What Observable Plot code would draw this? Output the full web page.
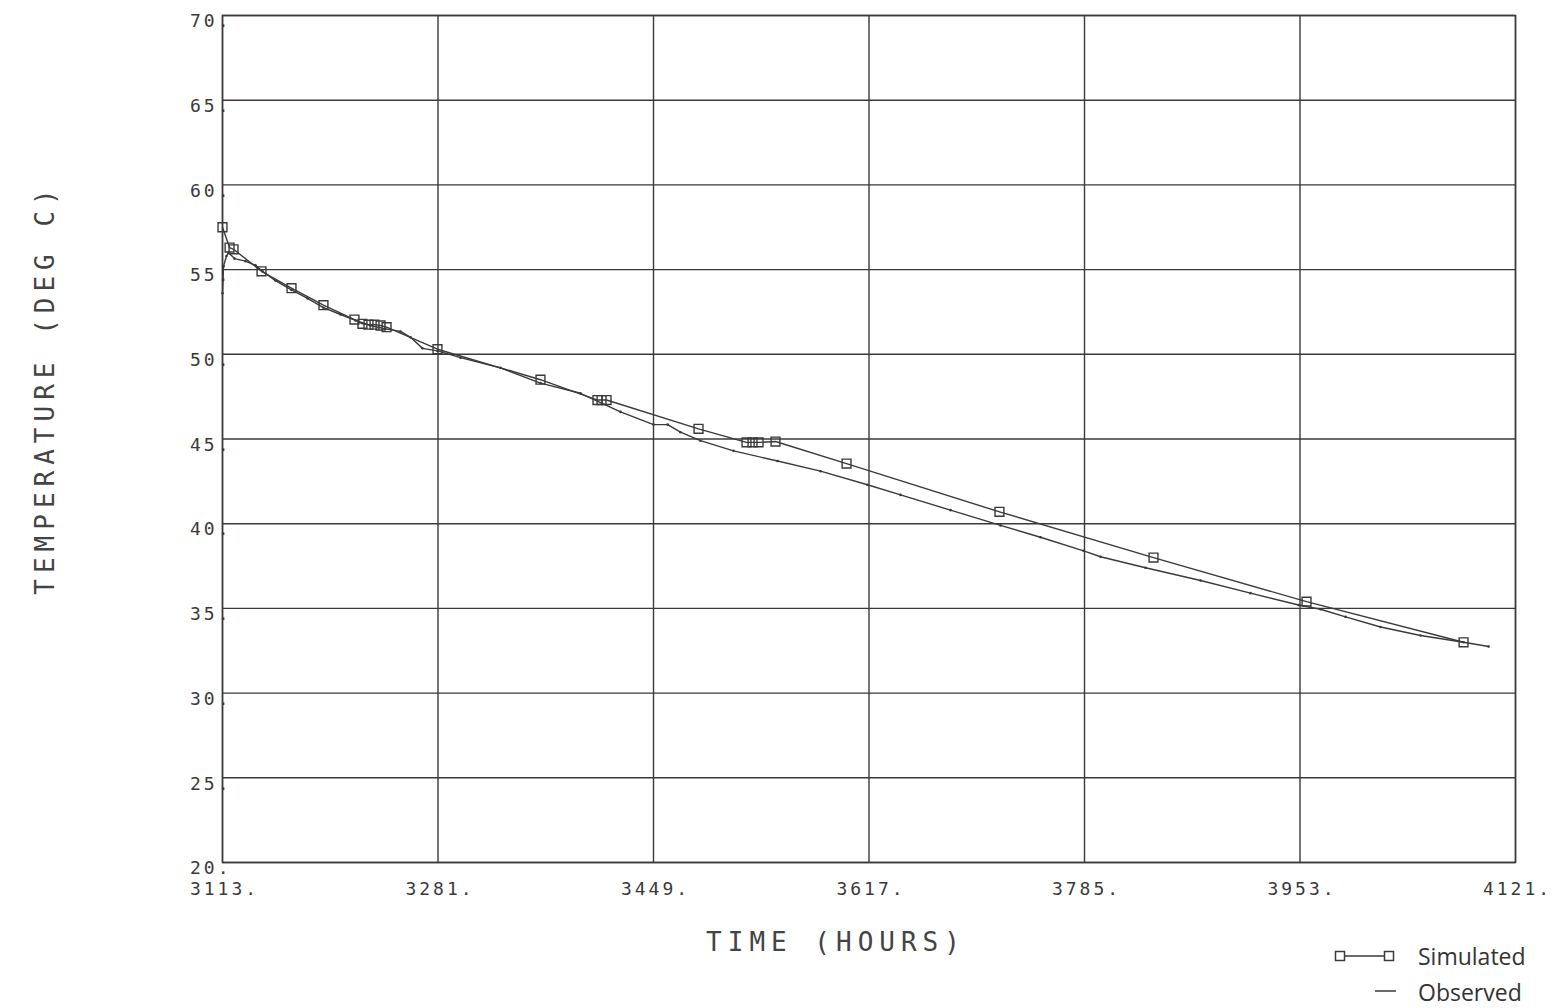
<!DOCTYPE html>
<html>
<head>
<meta charset="utf-8">
<script src="https://cdn.jsdelivr.net/npm/d3@7"></script>
<script src="https://cdn.jsdelivr.net/npm/@observablehq/plot@0.6"></script>
<style>
  html, body { margin: 0; padding: 0; background: #fff; }
  #wrap { position: relative; width: 1555px; height: 1008px; overflow: hidden; }
  #legend { position: absolute; left: 1325px; top: 938px; font-family: "Open Sans", sans-serif; font-size: 23px; color: #333; }
  #legend .row { display: flex; align-items: center; height: 36px; }
  #legend svg { width: 93px; height: 36px; }
</style>
</head>
<body>
<div id="wrap"><div id="chart"></div><div id="legend"></div></div>
<script>
// ---- data ----
const xTicks = [3113, 3281, 3449, 3617, 3785, 3953, 4121];
const yTicks = [20, 25, 30, 35, 40, 45, 50, 55, 60, 65, 70];

const simHours = [3113, 3118.5, 3121.6, 3143.4, 3166.8, 3191.7, 3215.9, 3222.1, 3226.8, 3231.5, 3236.2, 3240.9,
  3280.6, 3360.9, 3405.3, 3408.5, 3412.4, 3484.1, 3521.5, 3526.2, 3530.9, 3544.1, 3599.5, 3718.7,
  3838.8, 3958.1, 4080.5];
const simTemp = [57.5, 56.3, 56.2, 54.9, 53.9, 52.9, 52.05, 51.8, 51.75, 51.75, 51.7, 51.6,
  50.3, 48.5, 47.3, 47.3, 47.3, 45.6, 44.8, 44.8, 44.8, 44.85, 43.55, 40.7,
  38.0, 35.4, 33.0];

const obsHours = [3113, 3113.8, 3116.1, 3117.7, 3122.4, 3130.9, 3138.7, 3144.2, 3154.3, 3166.8, 3179.3,
  3191.7, 3205, 3216.7, 3228.4, 3240, 3251.8, 3259.6, 3268.9, 3280.6, 3298.5, 3329.7, 3360.9,
  3392.1, 3423.3, 3449, 3460, 3470, 3485.6, 3511.4, 3545.7, 3579.2, 3615.8, 3641.6, 3680.6,
  3719.5, 3750.7, 3784.3, 3797.5, 3832.6, 3875.5, 3914.4, 3951.9, 3969, 3988.5, 4015.8, 4047,
  4080.5, 4100];
const obsTemp = [53.6, 55.2, 55.8, 56.0, 55.65, 55.5, 55.25, 54.9, 54.35, 53.8, 53.3,
  52.75, 52.35, 52.0, 51.7, 51.5, 51.35, 51.0, 50.35, 50.2, 49.8, 49.2, 48.3,
  47.7, 46.6, 45.85, 45.85, 45.4, 44.9, 44.3, 43.7, 43.1, 42.3, 41.7, 40.8,
  39.9, 39.2, 38.4, 38.05, 37.4, 36.65, 35.9, 35.2, 34.95, 34.5, 33.9, 33.4,
  33.0, 32.75];

const seriesNames = ["Simulated", "Observed"];
const xLabel = "TIME (HOURS)";
const yLabel = "TEMPERATURE (DEG C)";

const sim = simHours.map((h, i) => ({h, t: simTemp[i]}));
const obs = obsHours.map((h, i) => ({h, t: obsTemp[i]}));

const ink = "#3a3a3a";

const chart = Plot.plot({
  width: 1555,
  height: 1008,
  marginLeft: 222,
  marginRight: 40,
  marginTop: 15,
  marginBottom: 146,
  style: {fontFamily: "'DejaVu Sans Mono', monospace", fontSize: "18px", letterSpacing: "3px", color: ink, background: "#fff"},
  x: {domain: [3113, 4121], ticks: xTicks},
  y: {domain: [20, 70], ticks: yTicks},
  marks: [
    Plot.gridX(xTicks, {stroke: ink, strokeOpacity: 1, strokeWidth: 1.4}),
    Plot.gridY(yTicks, {stroke: ink, strokeOpacity: 1, strokeWidth: 1.4}),
    Plot.frame({stroke: ink, strokeWidth: 1.5}),
    Plot.axisX(xTicks, {tickSize: 0, tickPadding: 20, dx: 2, tickFormat: d => d + ".", label: null, fill: ink}),
    Plot.axisY(yTicks, {tickSize: 0, tickPadding: 0, dx: 9, dy: 6, tickFormat: d => d + ".", label: null, fill: ink}),
    Plot.line(obs, {x: "h", y: "t", stroke: ink, strokeWidth: 1.4}),
    Plot.dot(obs, {x: "h", y: "t", r: 1.3, fill: ink, stroke: "none"}),
    Plot.line(sim, {x: "h", y: "t", stroke: ink, strokeWidth: 1.4}),
    Plot.dot(sim, {x: "h", y: "t", symbol: "square", r: 5, fill: "none", stroke: ink, strokeWidth: 1.4}),
    Plot.text([xLabel], {frameAnchor: "bottom", textAnchor: "middle", dx: -33, dy: 88, fontSize: 26, fill: "#444"}),
    Plot.text([yLabel], {frameAnchor: "left", textAnchor: "middle", dx: -177, dy: -50, rotate: -90, fontSize: 26, fill: "#444"})
  ]
});
// letter spacing for axis titles
d3.select(chart).selectAll("text").filter(function() { return this.textContent === xLabel || this.textContent === yLabel; })
  .style("letter-spacing", "6px");
document.getElementById("chart").appendChild(chart);

// legend
const leg = d3.select("#legend");
const r1 = leg.append("div").attr("class", "row");
const s1 = r1.append("svg");
s1.append("line").attr("x1", 19).attr("x2", 60).attr("y1", 18).attr("y2", 18).attr("stroke", ink).attr("stroke-width", 1.5);
[15, 64].forEach(cx => s1.append("rect").attr("x", cx - 4.5).attr("y", 13.5).attr("width", 9).attr("height", 9)
  .attr("fill", "none").attr("stroke", ink).attr("stroke-width", 1.5));
r1.append("span").text(seriesNames[0]);
const r2 = leg.append("div").attr("class", "row");
const s2 = r2.append("svg");
s2.append("line").attr("x1", 50).attr("x2", 71).attr("y1", 17).attr("y2", 17).attr("stroke", ink).attr("stroke-width", 1.5);
r2.append("span").text(seriesNames[1]);
</script>
</body>
</html>
